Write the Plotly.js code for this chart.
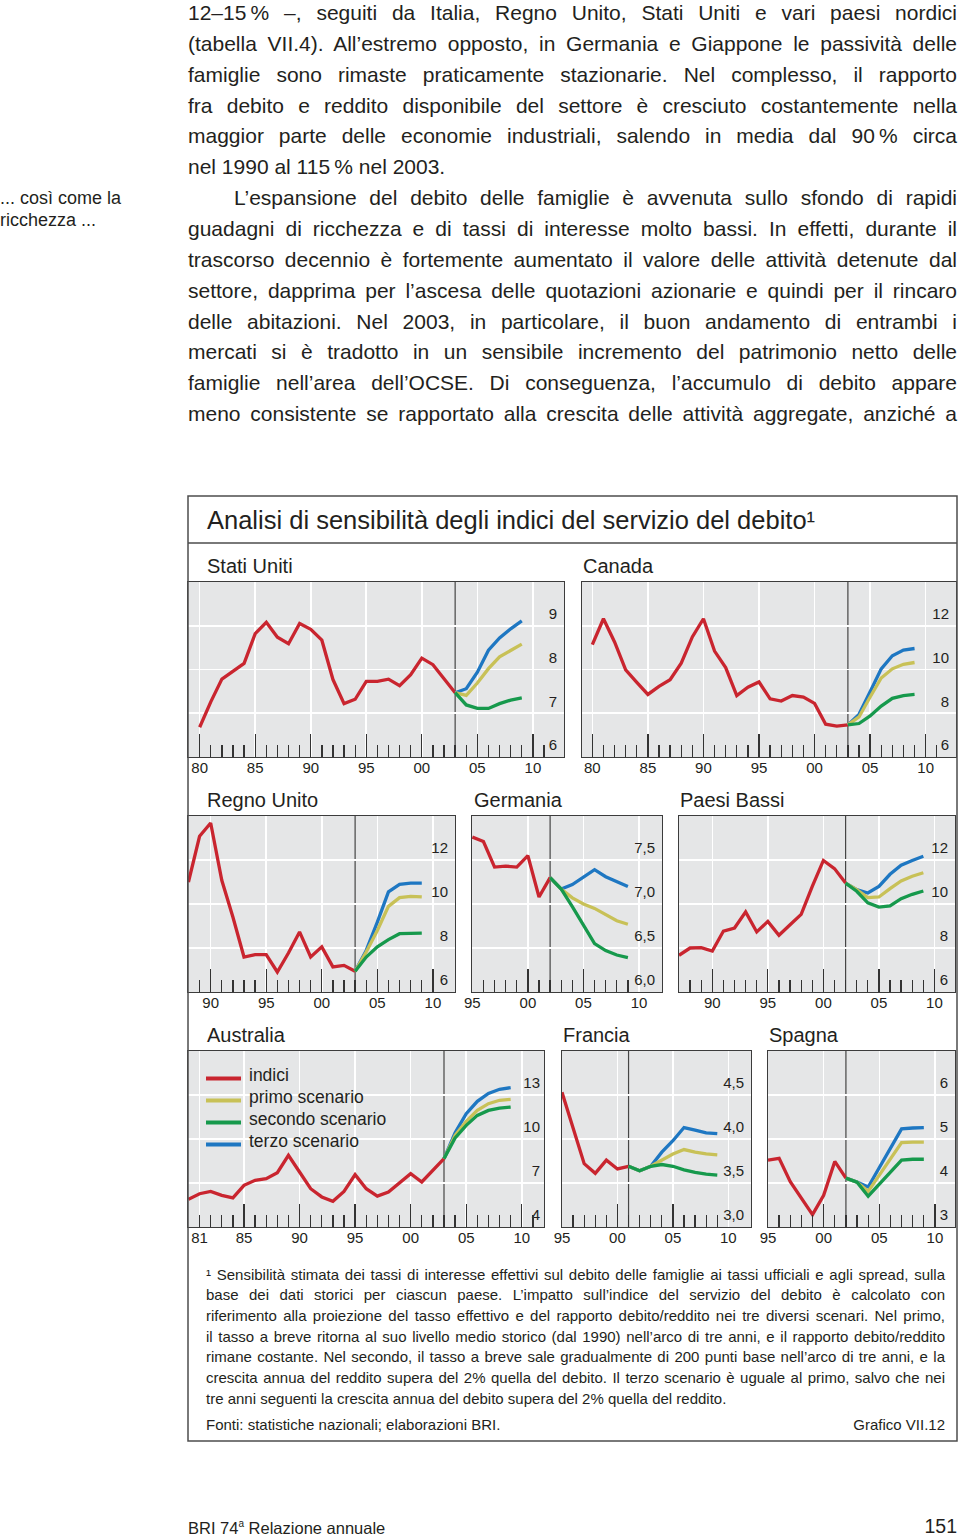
<!DOCTYPE html>
<html><head><meta charset="utf-8">
<script src="https://cdn.plot.ly/plotly-3.0.1.min.js"></script>
<style>
body{margin:0;width:960px;height:1538px;position:relative;background:#fff;font-family:"Liberation Sans",Arial,sans-serif;color:#231f20;overflow:hidden}
#chart{position:absolute;left:0;top:0;width:960px;height:1538px}
.b{position:absolute;left:188px;width:769px;height:31px;line-height:31px;font-size:21px;text-align:justify;text-align-last:justify}
.b.ind{left:234px;width:723px}
.b.end{text-align:left;text-align-last:left}
.m{position:absolute;left:0;font-size:18px;line-height:22px;white-space:nowrap}
.f{position:absolute;left:206px;width:739px;height:21px;line-height:21px;font-size:15px;text-align:justify;text-align-last:justify}
.f.end{text-align:left;text-align-last:left}
</style></head><body>
<div id="chart"></div>

<div class="b" style="top:-3px">12–15&#8201;% –, seguiti da Italia, Regno Unito, Stati Uniti e vari paesi nordici</div>
<div class="b" style="top:27.9px">(tabella VII.4). All’estremo opposto, in Germania e Giappone le passività delle</div>
<div class="b" style="top:58.7px">famiglie sono rimaste praticamente stazionarie. Nel complesso, il rapporto</div>
<div class="b" style="top:89.6px">fra debito e reddito disponibile del settore è cresciuto costantemente nella</div>
<div class="b" style="top:120.4px">maggior parte delle economie industriali, salendo in media dal 90&#8201;% circa</div>
<div class="b end" style="top:151.3px">nel 1990 al 115&#8201;% nel 2003.</div>
<div class="b ind" style="top:182.1px">L’espansione del debito delle famiglie è avvenuta sullo sfondo di rapidi</div>
<div class="b" style="top:213px">guadagni di ricchezza e di tassi di interesse molto bassi. In effetti, durante il</div>
<div class="b" style="top:243.8px">trascorso decennio è fortemente aumentato il valore delle attività detenute dal</div>
<div class="b" style="top:274.7px">settore, dapprima per l’ascesa delle quotazioni azionarie e quindi per il rincaro</div>
<div class="b" style="top:305.5px">delle abitazioni. Nel 2003, in particolare, il buon andamento di entrambi i</div>
<div class="b" style="top:336.4px">mercati si è tradotto in un sensibile incremento del patrimonio netto delle</div>
<div class="b" style="top:367.2px">famiglie nell’area dell’OCSE. Di conseguenza, l’accumulo di debito appare</div>
<div class="b" style="top:398.1px">meno consistente se rapportato alla crescita delle attività aggregate, anziché a</div>

<div class="m" style="top:187px">... così come la</div>
<div class="m" style="top:209px">ricchezza ...</div>

<div class="f" style="top:1263.5px">¹ Sensibilità stimata dei tassi di interesse effettivi sul debito delle famiglie ai tassi ufficiali e agli spread, sulla</div>
<div class="f" style="top:1284.2px">base dei dati storici per ciascun paese. L’impatto sull’indice del servizio del debito è calcolato con</div>
<div class="f" style="top:1304.8px">riferimento alla proiezione del tasso effettivo e del rapporto debito/reddito nei tre diversi scenari. Nel primo,</div>
<div class="f" style="top:1325.5px">il tasso a breve ritorna al suo livello medio storico (dal 1990) nell’arco di tre anni, e il rapporto debito/reddito</div>
<div class="f" style="top:1346.2px">rimane costante. Nel secondo, il tasso a breve sale gradualmente di 200 punti base nell’arco di tre anni, e la</div>
<div class="f" style="top:1366.8px">crescita annua del reddito supera del 2% quella del debito. Il terzo scenario è uguale al primo, salvo che nei</div>
<div class="f end" style="top:1387.5px">tre anni seguenti la crescita annua del debito supera del 2% quella del reddito.</div>
<div class="f end" style="top:1413.5px">Fonti: statistiche nazionali; elaborazioni BRI.</div>
<div class="f end" style="top:1413.5px;text-align:right;text-align-last:right">Grafico VII.12</div>

<div style="position:absolute;left:188px;top:1514px;font-size:16.5px;line-height:20px">BRI 74<sup style="font-size:10px">a</sup> Relazione annuale</div>
<div style="position:absolute;right:3px;top:1514px;font-size:19.5px;line-height:24px">151</div>

<script>
// ---------------- DATA ----------------
const anniStatiUniti = [1980,1981,1982,1983,1984,1985,1986,1987,1988,1989,1990,1991,1992,1993,1994,1995,1996,1997,1998,1999,2000,2001,2002,2003];
const indiciStatiUniti = [6.68,7.26,7.78,7.97,8.14,8.82,9.08,8.74,8.59,9.05,8.92,8.67,7.77,7.22,7.32,7.73,7.73,7.78,7.63,7.88,8.26,8.11,7.79,7.47];
const anniProiezStatiUniti = [2003,2004,2005,2006,2007,2008,2009];
const primoStatiUniti = [7.47,7.41,7.69,8.02,8.29,8.44,8.58];
const secondoStatiUniti = [7.47,7.19,7.11,7.11,7.22,7.30,7.35];
const terzoStatiUniti = [7.47,7.56,7.94,8.44,8.72,8.93,9.11];
const yTickStatiUniti = [6,7,8,9];
const yEtichetteStatiUniti = ['6','7','8','9'];

const anniCanada = [1980,1981,1982,1983,1984,1985,1986,1987,1988,1989,1990,1991,1992,1993,1994,1995,1996,1997,1998,1999,2000,2001,2002,2003];
const indiciCanada = [11.14,12.32,11.26,9.98,9.41,8.86,9.23,9.53,10.29,11.49,12.32,10.84,10.09,8.81,9.19,9.43,8.66,8.56,8.81,8.74,8.45,7.50,7.41,7.47];
const anniProiezCanada = [2003,2004,2005,2006,2007,2008,2009];
const primoCanada = [7.47,7.83,8.74,9.61,10.03,10.24,10.32];
const secondoCanada = [7.47,7.53,7.88,8.33,8.68,8.81,8.86];
const terzoCanada = [7.47,7.95,8.98,10.03,10.63,10.89,10.96];
const yTickCanada = [6,8,10,12];
const yEtichetteCanada = ['6','8','10','12'];

const anniRegnoUnito = [1988,1989,1990,1991,1992,1993,1994,1995,1996,1997,1998,1999,2000,2001,2002,2003];
const indiciRegnoUnito = [11.0,13.08,13.68,11.08,9.41,7.59,7.70,7.70,6.91,7.77,8.73,7.59,8.05,7.14,7.21,6.94];
const anniProiezRegnoUnito = [2003,2004,2005,2006,2007,2008,2009];
const primoRegnoUnito = [6.94,7.82,8.80,9.89,10.29,10.35,10.32];
const secondoRegnoUnito = [6.94,7.59,8.05,8.38,8.65,8.68,8.68];
const terzoRegnoUnito = [6.94,7.89,9.18,10.55,10.89,10.95,10.95];
const yTickRegnoUnito = [6,8,10,12];
const yEtichetteRegnoUnito = ['6','8','10','12'];

const anniGermania = [1995,1996,1997,1998,1999,2000,2001,2002];
const indiciGermania = [7.76,7.71,7.42,7.43,7.42,7.55,7.08,7.30];
const anniProiezGermania = [2002,2003,2004,2005,2006,2007,2008,2009];
const primoGermania = [7.30,7.17,7.07,7.00,6.95,6.88,6.81,6.77];
const secondoGermania = [7.30,7.17,6.97,6.76,6.55,6.47,6.42,6.39];
const terzoGermania = [7.30,7.17,7.22,7.30,7.39,7.31,7.25,7.20];
const yTickGermania = [6.0,6.5,7.0,7.5];
const yEtichetteGermania = ['6,0','6,5','7,0','7,5'];

const anniPaesiBassi = [1987,1988,1989,1990,1991,1992,1993,1994,1995,1996,1997,1998,1999,2000,2001,2002];
const indiciPaesiBassi = [7.67,8.00,8.02,7.86,8.77,8.91,9.64,8.73,9.21,8.58,9.06,9.53,10.80,11.98,11.61,10.95];
const anniProiezPaesiBassi = [2002,2003,2004,2005,2006,2007,2008,2009];
const primoPaesiBassi = [10.95,10.65,10.29,10.32,10.70,11.05,11.26,11.42];
const secondoPaesiBassi = [10.95,10.58,10.05,9.86,9.91,10.24,10.44,10.59];
const terzoPaesiBassi = [10.95,10.65,10.50,10.80,11.35,11.76,11.98,12.17];
const yTickPaesiBassi = [6,8,10,12];
const yEtichettePaesiBassi = ['6','8','10','12'];

const anniAustralia = [1980,1981,1982,1983,1984,1985,1986,1987,1988,1989,1990,1991,1992,1993,1994,1995,1996,1997,1998,1999,2000,2001,2002,2003];
const indiciAustralia = [5.89,6.27,6.43,6.16,5.98,6.84,7.18,7.30,7.70,8.89,7.75,6.61,6.05,5.75,6.43,7.57,6.61,6.11,6.39,7.00,7.64,7.07,7.86,8.66];
const anniProiezAustralia = [2003,2004,2005,2006,2007,2008,2009];
const primoAustralia = [8.66,10.25,11.20,11.95,12.41,12.64,12.70];
const secondoAustralia = [8.66,10.07,10.93,11.61,11.95,12.11,12.18];
const terzoAustralia = [8.66,10.43,11.73,12.57,13.11,13.39,13.50];
const yTickAustralia = [4,7,10,13];
const yEtichetteAustralia = ['4','7','10','13'];

const anniFrancia = [1995,1996,1997,1998,1999,2000,2001];
const indiciFrancia = [4.53,4.12,3.72,3.61,3.76,3.66,3.69];
const anniProiezFrancia = [2001,2002,2003,2004,2005,2006,2007,2008,2009];
const primoFrancia = [3.69,3.64,3.69,3.76,3.83,3.88,3.85,3.83,3.82];
const secondoFrancia = [3.69,3.64,3.69,3.71,3.69,3.65,3.62,3.60,3.59];
const terzoFrancia = [3.69,3.64,3.69,3.85,3.98,4.13,4.10,4.07,4.06];
const yTickFrancia = [3.0,3.5,4.0,4.5];
const yEtichetteFrancia = ['3,0','3,5','4,0','4,5'];

const anniSpagna = [1995,1996,1997,1998,1999,2000,2001,2002];
const indiciSpagna = [4.52,4.56,4.03,3.64,3.28,3.72,4.49,4.11];
const anniProiezSpagna = [2002,2003,2004,2005,2006,2007,2008,2009];
const primoSpagna = [4.11,4.02,3.81,4.17,4.55,4.92,4.93,4.93];
const secondoSpagna = [4.11,4.02,3.70,3.97,4.25,4.52,4.54,4.54];
const terzoSpagna = [4.11,4.02,3.91,4.35,4.80,5.23,5.25,5.26];
const yTickSpagna = [3,4,5,6];
const yEtichetteSpagna = ['3','4','5','6'];

const nomiSerie = ['indici','primo scenario','secondo scenario','terzo scenario'];
const titoloGrafico = 'Analisi di sensibilità degli indici del servizio del debito¹';

// ---------------- LAYOUT CONFIG ----------------
function seq(a,b,s){const r=[];for(let v=a;v<=b+1e-9;v+=s)r.push(v);return r;}
function minori(a,b){return seq(a,b,1).filter(v=>v%5!==0);}
const colori = ['#c9252f','#c8c157','#16994c','#1e77c2']; // indici, primo, secondo, terzo
const W=960,H=1538;
const pannelli = [
 {nome:'Stati Uniti', anni:anniStatiUniti, ind:indiciStatiUniti, ap:anniProiezStatiUniti, p1:primoStatiUniti, p2:secondoStatiUniti, p3:terzoStatiUniti, yt:yTickStatiUniti, ye:yEtichetteStatiUniti,
  px:[188,564], py:[582,757], xr:[1978.95,2012.8], yr:[6,10], mag:seq(1980,2010,5), min:minori(1981,2011), lab:seq(1980,2010,5), tx:206, ty:566},
 {nome:'Canada', anni:anniCanada, ind:indiciCanada, ap:anniProiezCanada, p1:primoCanada, p2:secondoCanada, p3:terzoCanada, yt:yTickCanada, ye:yEtichetteCanada,
  px:[582,956], py:[582,757], xr:[1979.07,2012.73], yr:[6,14], mag:seq(1980,2010,5), min:minori(1981,2011), lab:seq(1980,2010,5), tx:582, ty:566},
 {nome:'Regno Unito', anni:anniRegnoUnito, ind:indiciRegnoUnito, ap:anniProiezRegnoUnito, p1:primoRegnoUnito, p2:secondoRegnoUnito, p3:terzoRegnoUnito, yt:yTickRegnoUnito, ye:yEtichetteRegnoUnito,
  px:[188,455], py:[816,992], xr:[1987.96,2011.99], yr:[6,14], mag:seq(1990,2010,5), min:minori(1989,2009), lab:seq(1990,2010,5), tx:206, ty:800},
 {nome:'Germania', anni:anniGermania, ind:indiciGermania, ap:anniProiezGermania, p1:primoGermania, p2:secondoGermania, p3:terzoGermania, yt:yTickGermania, ye:yEtichetteGermania,
  px:[472,662], py:[816,992], xr:[1994.97,2012.07], yr:[6,8], mag:[2000,2005], min:minori(1996,2009), lab:seq(1995,2010,5), tx:473, ty:800},
 {nome:'Paesi Bassi', anni:anniPaesiBassi, ind:indiciPaesiBassi, ap:anniProiezPaesiBassi, p1:primoPaesiBassi, p2:secondoPaesiBassi, p3:terzoPaesiBassi, yt:yTickPaesiBassi, ye:yEtichettePaesiBassi,
  px:[679,955], py:[816,992], xr:[1987.0,2011.85], yr:[6,14], mag:seq(1990,2010,5), min:minori(1988,2009), lab:seq(1990,2010,5), tx:679, ty:800},
 {nome:'Australia', anni:anniAustralia, ind:indiciAustralia, ap:anniProiezAustralia, p1:primoAustralia, p2:secondoAustralia, p3:terzoAustralia, yt:yTickAustralia, ye:yEtichetteAustralia,
  px:[188,544], py:[1051,1227], xr:[1979.96,2012.0], yr:[4,16], mag:seq(1985,2010,5), min:minori(1981,2011), lab:[1981].concat(seq(1985,2010,5)), tx:206, ty:1035, ystand:4},
 {nome:'Francia', anni:anniFrancia, ind:indiciFrancia, ap:anniProiezFrancia, p1:primoFrancia, p2:secondoFrancia, p3:terzoFrancia, yt:yTickFrancia, ye:yEtichetteFrancia,
  px:[562,751], py:[1051,1227], xr:[1995.0,2012.04], yr:[3,5], mag:[2000,2005], min:minori(1996,2009), lab:seq(1995,2010,5), tx:562, ty:1035},
 {nome:'Spagna', anni:anniSpagna, ind:indiciSpagna, ap:anniProiezSpagna, p1:primoSpagna, p2:secondoSpagna, p3:terzoSpagna, yt:yTickSpagna, ye:yEtichetteSpagna,
  px:[768,955], py:[1051,1227], xr:[1995.0,2011.8], yr:[3,7], mag:[2000,2005,2010], min:minori(1996,2009), lab:seq(1995,2010,5), tx:768, ty:1035}
];

const FONT = '"Liberation Sans", Arial, sans-serif';
const TXT = '#231f20';
const LINEA = '#3c3c3c';
const traces = [];
const layout = {
  width:W, height:H, margin:{l:0,r:0,t:0,b:0}, paper_bgcolor:'#ffffff', plot_bgcolor:'#e5e6e7',
  font:{family:FONT, color:TXT, size:15}, showlegend:false,
  shapes:[], annotations:[]
};
layout.shapes.push({type:'rect', xref:'paper', yref:'paper', x0:188/W, x1:957/W, y0:1-1441/H, y1:1-496/H, line:{color:'#4d4d4d', width:1.5}, layer:'above'});
layout.shapes.push({type:'line', xref:'paper', yref:'paper', x0:188/W, x1:957/W, y0:1-543/H, y1:1-543/H, line:{color:'#4d4d4d', width:1.3}});
layout.annotations.push({xref:'paper', yref:'paper', x:205/W, y:1-520/H, xanchor:'left', yanchor:'middle', text:titoloGrafico, showarrow:false, font:{size:25.5, color:TXT}});

// legenda (pannello Australia)
const legY = [1077, 1099, 1121, 1143];
nomiSerie.forEach((n,j)=>{
  layout.shapes.push({type:'line', xref:'paper', yref:'paper', x0:206/W, x1:241/W, y0:1-(legY[j]+1.5)/H, y1:1-(legY[j]+1.5)/H, line:{color:colori[j], width:4}, layer:'above'});
  layout.annotations.push({xref:'paper', yref:'paper', x:247/W, y:1-(legY[j]-2)/H, xanchor:'left', yanchor:'middle', text:n, showarrow:false, font:{size:17.5, color:TXT}});
});

pannelli.forEach((p,k)=>{
  const i=k+1, o=k+9;
  const xa='x'+i, ya='y'+i;
  layout['xaxis'+i] = {domain:[p.px[0]/W, p.px[1]/W], range:p.xr, autorange:false, anchor:ya,
    tickmode:'array', tickvals:p.lab, ticktext:p.lab.map(v=>String(v).slice(2)), ticks:'', ticklabelstandoff:-3,
    showgrid:true, gridcolor:'#ffffff', gridwidth:1.6, zeroline:false,
    showline:true, linecolor:LINEA, linewidth:1.2, mirror:true, tickfont:{size:15, color:TXT}, fixedrange:true};
  layout['yaxis'+i] = {domain:[1-p.py[1]/H, 1-p.py[0]/H], range:p.yr, autorange:false, anchor:xa, side:'right',
    tickmode:'array', tickvals:p.yt, ticktext:p.ye, ticks:'', ticklabelposition:'inside', ticklabelshift:-12, ticklabelstandoff:(p.ystand!==undefined?p.ystand:7),
    ticklabeloverflow:'allow', showgrid:true, gridcolor:'#ffffff', gridwidth:1.6, zeroline:false,
    showline:true, linecolor:LINEA, linewidth:1.2, mirror:true, tickfont:{size:15, color:TXT}, fixedrange:true};
  layout['xaxis'+o] = {overlaying:xa, anchor:ya, range:p.xr, autorange:false, side:'bottom',
    tickmode:'array', tickvals:p.mag, ticks:'inside', ticklen:23, tickwidth:1.3, tickcolor:'#333333',
    showticklabels:false, showgrid:false, showline:false, zeroline:false, fixedrange:true,
    minor:{tickmode:'array', tickvals:p.min, ticks:'inside', ticklen:12, tickwidth:1.3, tickcolor:'#333333', showgrid:false}};
  traces.push({type:'scatter', mode:'lines', x:[p.xr[0]], y:[null], xaxis:'x'+o, yaxis:ya, showlegend:false, hoverinfo:'skip'});

  const inizio = p.anni[p.anni.length-1];
  layout.shapes.push({type:'line', xref:xa, yref:ya+' domain', x0:inizio, x1:inizio, y0:0, y1:1, line:{color:'#454545', width:1.2}, layer:'below'});
  layout.annotations.push({xref:'paper', yref:'paper', x:(p.tx-1)/W, y:1-p.ty/H, xanchor:'left', yanchor:'middle', text:p.nome, showarrow:false, font:{size:20, color:TXT}});

  const base = {type:'scatter', mode:'lines', xaxis:xa, yaxis:ya, hoverinfo:'skip', showlegend:false};
  traces.push(Object.assign({}, base, {x:p.anni, y:p.ind, name:nomiSerie[0], line:{color:colori[0], width:3.3}}));
  traces.push(Object.assign({}, base, {x:p.ap, y:p.p3, name:nomiSerie[3], line:{color:colori[3], width:3.3}}));
  traces.push(Object.assign({}, base, {x:p.ap, y:p.p1, name:nomiSerie[1], line:{color:colori[1], width:3.3}}));
  traces.push(Object.assign({}, base, {x:p.ap, y:p.p2, name:nomiSerie[2], line:{color:colori[2], width:3.3}}));
});

Plotly.newPlot('chart', traces, layout, {displayModeBar:false, staticPlot:true});
</script>
</body></html>
